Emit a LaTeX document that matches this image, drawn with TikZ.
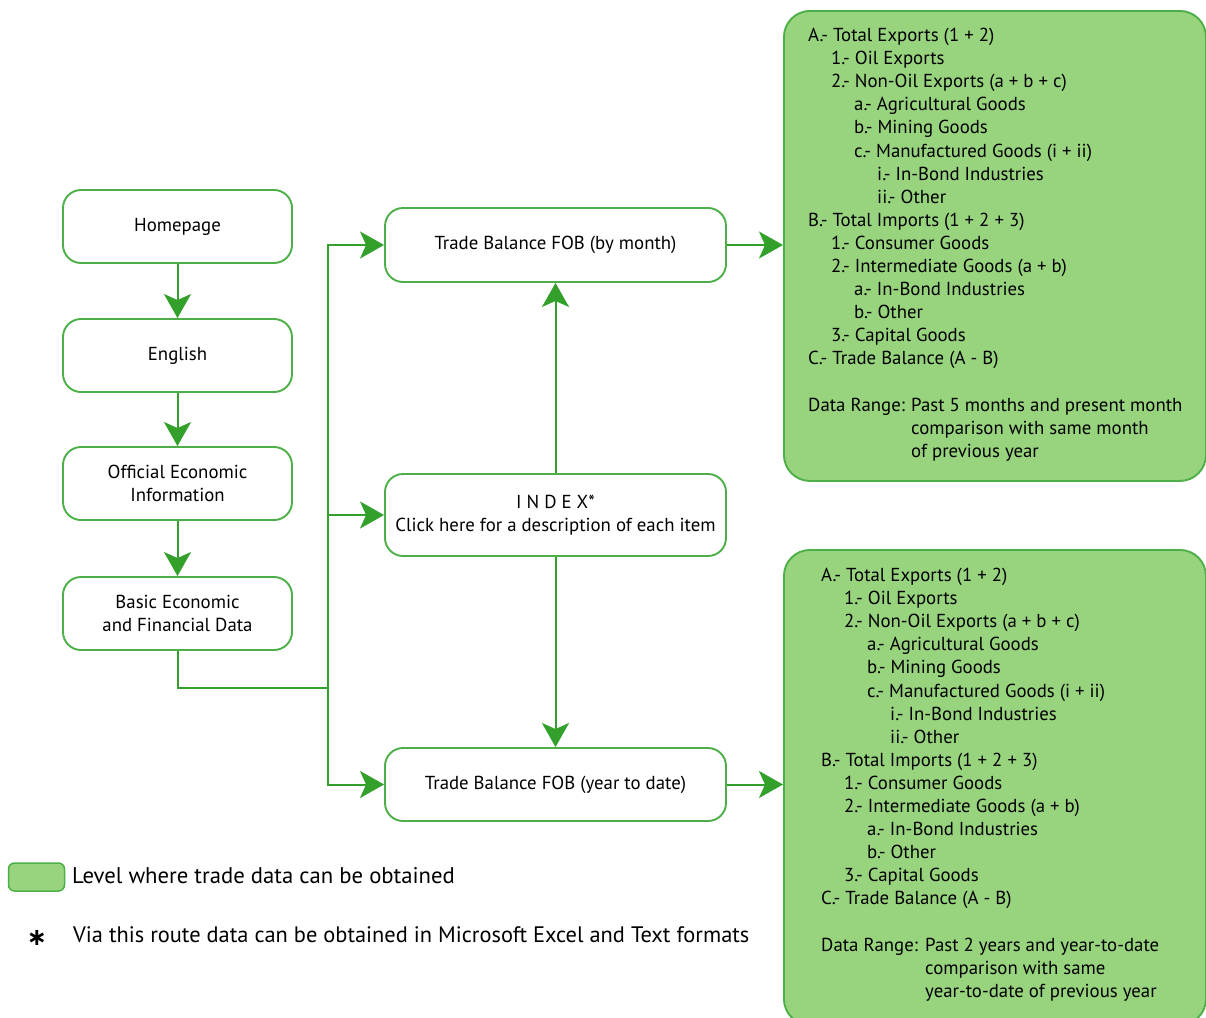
\documentclass[tikz,border=0pt]{standalone}
\usepackage{fontspec}
\setmainfont{PT Sans}
\newfontfamily\symfont{DejaVu Sans}
\usetikzlibrary{arrows.meta}
\definecolor{gline}{HTML}{4DAF47}
\definecolor{garrow}{HTML}{33A02C}
\definecolor{gfill}{HTML}{98D47E}
\def\TBlist{0/0/A.- Total Exports (1 + 2),1/1/1.- Oil Exports,2/1/2.- Non-Oil Exports (a + b + c),3/2/a.- Agricultural Goods,4/2/b.- Mining Goods,5/2/c.- Manufactured Goods (i + ii),6/3/i.- In-Bond Industries,7/3/ii.- Other,8/0/B.- Total Imports (1 + 2 + 3),9/1/1.- Consumer Goods,10/1/2.- Intermediate Goods (a + b),11/2/a.- In-Bond Industries,12/2/b.- Other,13/1/3.- Capital Goods,14/0/C.- Trade Balance (A - B)}
\begin{document}
\begin{tikzpicture}[x=1pt,y=-1pt,
  box/.style={draw=gline, line width=1.9pt, rounded corners=18pt, minimum width=229pt, minimum height=73pt, align=center, font=\fontsize{18.8}{23}\selectfont, inner sep=0pt, text=black},
  wbox/.style={box, minimum width=341pt},
  data/.style={draw=gline, fill=gfill, line width=1.9pt, rounded corners=26pt},
  conn/.style={draw=garrow, line width=2pt},
  arr/.style={conn, -{Stealth[length=24pt,width=27pt,inset=6pt]}},
  ln/.style={anchor=mid west, inner sep=0pt, font=\fontsize{18.8}{23}\selectfont, text=black}]
\useasboundingbox[fill=white] (0,0) rectangle (1206,1017);
% left column
\node[box] (home) at (177.5,226.5) {Homepage};
\node[box] (eng) at (177.5,355.5) {English};
\node[box] (oei) at (177.5,483.5) {Official Economic\\Information};
\node[box] (bef) at (177.5,613.5) {Basic Economic\\and Financial Data};
% middle column
\node[wbox, minimum height=74pt] (tbm) at (555.5,245) {Trade Balance FOB (by month)};
\node[wbox, minimum height=82pt] (idx) at (555.5,515) {I N D E X*\\Click here for a description of each item};
\node[wbox] (ytd) at (555.5,784.5) {Trade Balance FOB (year to date)};
% data boxes
\node[data, minimum width=422pt, minimum height=470pt, anchor=north west] (g1) at (783,10) {};
\node[data, minimum width=422pt, minimum height=475pt, anchor=north west] (g2) at (783,549) {};
% connectors
\draw[arr] (home) -- (eng);
\draw[arr] (eng) -- (oei);
\draw[arr] (oei) -- (bef);
\coordinate (j) at (328,688);
\draw[conn] (bef.south) |- (j);
\draw[arr] (j) |- (tbm.west);
\draw[arr] (j) |- (idx.west);
\draw[arr] (j) |- (ytd.west);
\draw[arr] (idx) -- (tbm);
\draw[arr] (idx) -- (ytd);
\draw[arr] (tbm) -- (tbm -| g1.west);
\draw[arr] (ytd) -- (ytd -| g2.west);
% data box texts
\foreach \i/\lv/\t in \TBlist {
  \node[ln] (p\i) at ({808+23*\lv},{39+23.1*\i}) {\t};
  \node[ln] (q\i) at ({821+23*\lv},{579+23.1*\i}) {\t};
}
\node[ln] (pdr) at (808,408.6) {Data Range:};
\node[ln] (pd1) at (911,408.6) {Past 5 months and present month};
\node[ln] (pd2) at (911,431.7) {comparison with same month};
\node[ln] (pd3) at (911,454.8) {of previous year};
\node[ln] (qdr) at (821,948.6) {Data Range:};
\node[ln] (qd1) at (925,948.6) {Past 2 years and year-to-date};
\node[ln] (qd2) at (925,971.7) {comparison with same};
\node[ln] (qd3) at (925,994.8) {year-to-date of previous year};
% legend
\node[data, rounded corners=6pt, line width=1.5pt, minimum width=56pt, minimum height=28pt] (leg) at (36.5,877) {};
\node[ln, font=\fontsize{22.7}{26}\selectfont] (legt) at (72,881) {Level where trade data can be obtained};
\node[inner sep=0pt, font=\symfont\bfseries\fontsize{24}{24}\selectfont] (star) at (37,938) {∗};
\node[ln, font=\fontsize{22.4}{26}\selectfont] (via) at (73,940) {Via this route data can be obtained in Microsoft Excel and Text formats};
\end{tikzpicture}
\end{document}
